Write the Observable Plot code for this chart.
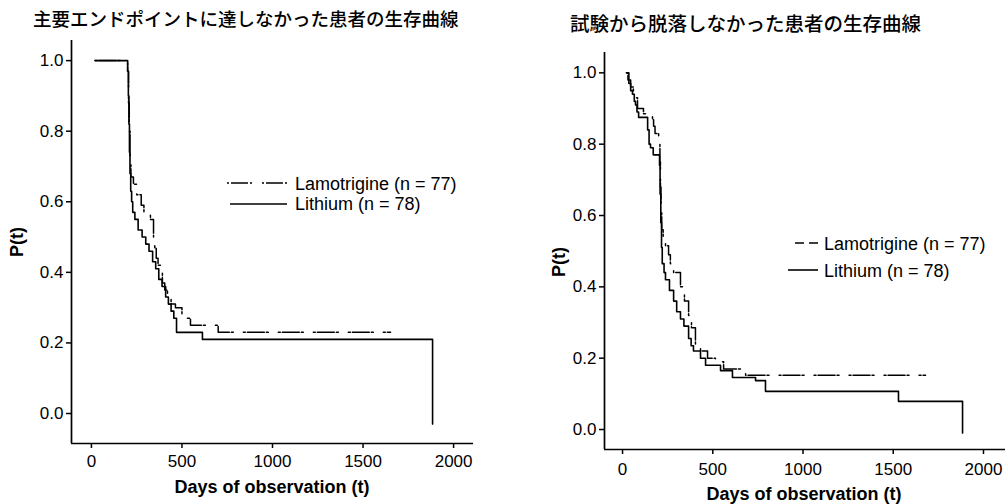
<!DOCTYPE html>
<html>
<head>
<meta charset="utf-8">
<script src="https://cdn.jsdelivr.net/npm/d3@7"></script>
<script src="https://cdn.jsdelivr.net/npm/@observablehq/plot@0.6"></script>
<style>
  html, body { margin: 0; padding: 0; background: #fff; }
  #page { position: relative; width: 1005px; height: 504px; overflow: hidden; background: #fff; }
  #page svg.plotsvg { position: absolute; top: 0; overflow: visible; }
  #overlay { position: absolute; left: 0; top: 0; }
</style>
</head>
<body>
<div id="page"></div>
<script>
// ---------- data ----------
const dayTicks = [0, 500, 1000, 1500, 2000];
const pTicks = [0, 0.2, 0.4, 0.6, 0.8, 1.0];

const titleLeft = "主要エンドポイントに達しなかった患者の生存曲線";
const titleRight = "試験から脱落しなかった患者の生存曲線";
const xTitle = "Days of observation (t)";
const yTitle = "P(t)";
const seriesNames = ["Lamotrigine (n = 77)", "Lithium (n = 78)"];

// Left panel: patients who did not reach the primary endpoint
const leftLamDays = [20, 200, 205, 209, 213, 218, 232, 250, 275, 290, 326, 343, 350, 358, 368, 392, 405, 420, 440, 464, 500, 519, 547, 700, 1652];
const leftLamP    = [1.00, 0.97, 0.88, 0.80, 0.72, 0.67, 0.65, 0.62, 0.59, 0.57, 0.55, 0.50, 0.47, 0.44, 0.42, 0.37, 0.35, 0.33, 0.31, 0.30, 0.28, 0.27, 0.25, 0.23, 0.23];
const leftLiDays  = [20, 200, 204, 207, 210, 213, 217, 222, 228, 240, 258, 280, 300, 318, 338, 355, 372, 390, 410, 425, 440, 455, 470, 613, 1884];
const leftLiP     = [1.00, 0.97, 0.90, 0.82, 0.74, 0.68, 0.63, 0.60, 0.57, 0.55, 0.52, 0.50, 0.48, 0.46, 0.43, 0.41, 0.38, 0.36, 0.33, 0.31, 0.29, 0.27, 0.23, 0.21, -0.03];

// Right panel: patients who did not drop out of the trial
const rightLamDays = [22, 30, 45, 60, 83, 116, 166, 172, 180, 200, 207, 210, 213, 217, 225, 238, 255, 265, 283, 321, 343, 366, 382, 404, 432, 471, 515, 560, 682, 1679];
const rightLamP    = [1.00, 0.98, 0.96, 0.93, 0.90, 0.885, 0.87, 0.85, 0.83, 0.80, 0.75, 0.68, 0.62, 0.56, 0.53, 0.515, 0.49, 0.465, 0.44, 0.40, 0.36, 0.32, 0.285, 0.24, 0.22, 0.20, 0.19, 0.17, 0.152, 0.152];
const rightLiDays  = [22, 35, 45, 55, 65, 72, 80, 89, 139, 147, 155, 170, 205, 208, 212, 216, 220, 230, 238, 260, 283, 300, 321, 340, 366, 380, 393, 432, 460, 543, 609, 737, 792, 1529, 1884];
const rightLiP     = [1.00, 0.97, 0.95, 0.94, 0.92, 0.91, 0.89, 0.875, 0.84, 0.80, 0.79, 0.77, 0.74, 0.66, 0.58, 0.51, 0.465, 0.44, 0.42, 0.39, 0.36, 0.33, 0.31, 0.29, 0.255, 0.235, 0.22, 0.20, 0.18, 0.165, 0.146, 0.137, 0.107, 0.079, -0.01];

// ---------- drawing ----------
const rows = (days, p) => days.map((t, i) => ({t, p: p[i]}));
const dashDot = "2,2,17,2,2,10";

function panel(cfg) {
  const svg = Plot.plot({
    width: cfg.width,
    height: 504,
    marginLeft: cfg.marginLeft,
    marginRight: cfg.marginRight,
    marginTop: cfg.marginTop,
    marginBottom: cfg.marginBottom,
    x: {domain: cfg.xDomain, label: null},
    y: {domain: cfg.yDomain, label: null},
    style: {fontFamily: "'Liberation Sans', Arial, sans-serif", fontSize: "17px", color: "black", background: "transparent"},
    marks: [
      Plot.axisX({ticks: dayTicks, tickSize: 5, tickPadding: cfg.xPad, strokeWidth: 1.5, fontSize: 17, tickFormat: d3.format("d"), label: null}),
      Plot.axisY({ticks: pTicks, tickSize: 5, tickPadding: 3, strokeWidth: 1.5, fontSize: 17, tickFormat: d3.format(".1f"), label: null}),
      Plot.ruleX([cfg.xDomain[0]], {stroke: "black", strokeWidth: 1.7}),
      Plot.ruleY([cfg.yDomain[0]], {stroke: "black", strokeWidth: 1.7}),
      Plot.line(cfg.li, {x: "t", y: "p", curve: "step-after", stroke: "black", strokeWidth: 1.6}),
      Plot.line(cfg.lam, {x: "t", y: "p", curve: "step-after", stroke: "black", strokeWidth: 1.5, strokeDasharray: dashDot})
    ]
  });
  svg.classList.add("plotsvg");
  svg.style.left = cfg.left + "px";
  return svg;
}

const page = document.getElementById("page");
page.appendChild(panel({
  left: 0, width: 500, marginLeft: 71, marginRight: 27, marginTop: 40, marginBottom: 61,
  xDomain: [-110, 2110], yDomain: [-0.085, 1.057], xPad: 6,
  lam: rows(leftLamDays, leftLamP), li: rows(leftLiDays, leftLiP)
}));
page.appendChild(panel({
  left: 500, width: 505, marginLeft: 104, marginRight: 0, marginTop: 52, marginBottom: 55,
  xDomain: [-100, 2122], yDomain: [-0.056, 1.057], xPad: 8,
  lam: rows(rightLamDays, rightLamP), li: rows(rightLiDays, rightLiP)
}));

// ---------- titles, axis titles, legends ----------
const NS = "http://www.w3.org/2000/svg";
const ov = document.createElementNS(NS, "svg");
ov.setAttribute("id", "overlay");
ov.setAttribute("width", 1005);
ov.setAttribute("height", 504);
page.appendChild(ov);

function txt(str, x, y, opts = {}) {
  const t = document.createElementNS(NS, "text");
  t.textContent = str;
  t.setAttribute("x", x);
  t.setAttribute("y", y);
  t.setAttribute("font-family", opts.family || "'Liberation Sans', Arial, sans-serif");
  t.setAttribute("font-size", opts.size || 18);
  if (opts.weight) t.setAttribute("font-weight", opts.weight);
  if (opts.anchor) t.setAttribute("text-anchor", opts.anchor);
  if (opts.transform) t.setAttribute("transform", opts.transform);
  t.setAttribute("fill", "black");
  ov.appendChild(t);
}
function seg(x1, x2, y, dash, w = 1.6) {
  const l = document.createElementNS(NS, "line");
  l.setAttribute("x1", x1); l.setAttribute("x2", x2);
  l.setAttribute("y1", y); l.setAttribute("y2", y);
  l.setAttribute("stroke", "black");
  l.setAttribute("stroke-width", w);
  if (dash) l.setAttribute("stroke-dasharray", dash);
  ov.appendChild(l);
}

const cjk = "'Noto Sans CJK JP', 'Noto Sans CJK SC', sans-serif";
txt(titleLeft, 33, 25.5, {family: cjk, size: 18.5, weight: 500});
txt(titleRight, 570, 30.5, {family: cjk, size: 19.5, weight: 500});

txt(xTitle, 272, 493, {weight: "bold", anchor: "middle"});
txt(xTitle, 804, 500, {weight: "bold", anchor: "middle"});
txt(yTitle, 0, 0, {weight: "bold", anchor: "middle", transform: "translate(23,242) rotate(-90)"});
txt(yTitle, 0, 0, {weight: "bold", anchor: "middle", transform: "translate(565,262) rotate(-90)"});

// left legend
seg(227, 287, 183, dashDot, 1.5);
txt(seriesNames[0], 295, 190);
seg(230, 287, 204, null, 1.6);
txt(seriesNames[1], 295, 210);
// right legend
seg(795, 818, 243, "9,5", 1.5);
txt(seriesNames[0], 824, 250);
seg(788, 818, 270, null, 1.6);
txt(seriesNames[1], 824, 277);
</script>
</body>
</html>
